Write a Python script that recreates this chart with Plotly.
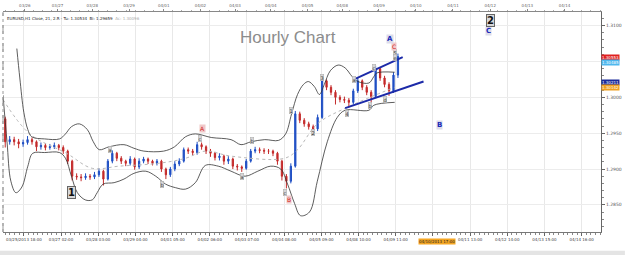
import plotly.graph_objects as go

# ---------------- data ----------------
first_open = 1.2970
closes = [1.2938, 1.2941, 1.2938, 1.2935, 1.2937, 1.2941, 1.2938, 1.2931, 1.2933, 1.2930,
          1.2931, 1.2933, 1.2930, 1.2925, 1.2911, 1.2890, 1.2889, 1.2888, 1.2890, 1.2889,
          1.2892, 1.2897, 1.2886, 1.2911, 1.2922, 1.2915, 1.2911, 1.2908, 1.2914, 1.2903,
          1.2911, 1.2914, 1.2911, 1.2908, 1.2911, 1.2900, 1.2892, 1.2900, 1.2907, 1.2911,
          1.2927, 1.2925, 1.2923, 1.2934, 1.2931, 1.2925, 1.2922, 1.2916, 1.2918, 1.2911,
          1.2914, 1.2904, 1.2903, 1.2901, 1.2911, 1.2925, 1.2927, 1.2926, 1.2925, 1.2925,
          1.2922, 1.2911, 1.2890, 1.2883, 1.2904, 1.2977, 1.2968, 1.2963, 1.2959, 1.2956,
          1.2972, 1.3023, 1.3014, 1.3007, 1.3000, 1.2997, 1.2996, 1.2993, 1.3009, 1.3023,
          1.3014, 1.3007, 1.3001, 1.3040, 1.3027, 1.3018, 1.3009, 1.3031, 1.3057]
highs = [1.2973, 1.2946, 1.2945, 1.2942, 1.2941, 1.2946, 1.2944, 1.2940, 1.2937, 1.2936,
         1.2935, 1.2937, 1.2935, 1.2933, 1.2927, 1.2913, 1.2894, 1.2893, 1.2894, 1.2893,
         1.2896, 1.2901, 1.2899, 1.2914, 1.2926, 1.2924, 1.2918, 1.2913, 1.2918, 1.2916,
         1.2915, 1.2917, 1.2916, 1.2913, 1.2914, 1.2913, 1.2902, 1.2903, 1.2911, 1.2915,
         1.2930, 1.2930, 1.2928, 1.2938, 1.2937, 1.2933, 1.2928, 1.2924, 1.2922, 1.2920,
         1.2918, 1.2916, 1.2907, 1.2905, 1.2914, 1.2928, 1.2931, 1.2930, 1.2929, 1.2928,
         1.2927, 1.2924, 1.2913, 1.2893, 1.2908, 1.2981, 1.2980, 1.2971, 1.2966, 1.2962,
         1.2976, 1.3027, 1.3025, 1.3017, 1.3010, 1.3003, 1.3001, 1.2999, 1.3012, 1.3027,
         1.3025, 1.3017, 1.3010, 1.3044, 1.3042, 1.3030, 1.3021, 1.3035, 1.3061]
lows = [1.2930, 1.2934, 1.2933, 1.2929, 1.2931, 1.2934, 1.2934, 1.2925, 1.2927, 1.2926,
        1.2927, 1.2928, 1.2926, 1.2921, 1.2907, 1.2884, 1.2885, 1.2883, 1.2885, 1.2885,
        1.2886, 1.2889, 1.2877, 1.2884, 1.2908, 1.2911, 1.2907, 1.2904, 1.2905, 1.2899,
        1.2900, 1.2908, 1.2907, 1.2905, 1.2905, 1.2896, 1.2886, 1.2889, 1.2897, 1.2904,
        1.2909, 1.2921, 1.2919, 1.2920, 1.2927, 1.2921, 1.2917, 1.2912, 1.2912, 1.2906,
        1.2907, 1.2900, 1.2898, 1.2896, 1.2899, 1.2909, 1.2922, 1.2922, 1.2921, 1.2921,
        1.2918, 1.2906, 1.2884, 1.2873, 1.2880, 1.2902, 1.2964, 1.2959, 1.2955, 1.2951,
        1.2953, 1.2970, 1.3010, 1.3003, 1.2990, 1.2993, 1.2992, 1.2986, 1.2990, 1.3006,
        1.3010, 1.3003, 1.2993, 1.2999, 1.3023, 1.3014, 1.3002, 1.3006, 1.3027]
opens = [first_open] + closes[:-1]
bar_step = 3
bars = [i * bar_step for i in range(len(closes))]

upper_x = [7.8, 9.8, 12.5, 15.2, 17.8, 26.5, 36.5, 40.5, 44.5, 49.8, 55.2, 59.2, 63.2, 69.8,
           79.8, 86.5, 93.2, 106.5, 113.8, 121.2, 127.8, 138.5, 151.8, 158.5, 165.2, 174.5,
           183.8, 188.5, 192.5, 196.5, 200.5, 203.8, 207.8, 211.2, 214.5, 218.5, 223.8, 228.5,
           233.2, 237.2, 244.5, 247.8, 249.8, 261.8]
upper_y = [1.3068, 1.3027, 1.2979, 1.2955, 1.2945, 1.2942, 1.2942, 1.2949, 1.2959, 1.2963,
           1.2955, 1.2938, 1.2927, 1.2931, 1.2934, 1.2929, 1.2925, 1.2925, 1.2931, 1.2945,
           1.2949, 1.2944, 1.2941, 1.2934, 1.2938, 1.2941, 1.2940, 1.2949, 1.2977, 1.3004,
           1.3018, 1.3022, 1.3015, 1.3004, 1.3018, 1.3037, 1.3045, 1.3041, 1.3029, 1.3022,
           1.3020, 1.3029, 1.3034, 1.3035]
lower_x = [-1.5, 1.2, 3.8, 7.2, 11.2, 15.2, 18.5, 26.5, 36.5, 40.5, 44.5, 48.5, 53.8, 58.5,
           61.8, 65.8, 73.2, 79.8, 86.5, 94.5, 101.2, 107.8, 114.5, 121.2, 127.8, 134.5, 143.2,
           151.8, 161.2, 169.8, 178.5, 185.2, 189.8, 194.5, 198.5, 204.5, 209.8, 216.5, 223.2,
           228.5, 244.5, 247.8, 261.8]
lower_y = [1.3003, 1.2938, 1.2883, 1.2867, 1.2875, 1.2904, 1.2922, 1.2923, 1.2923, 1.2915,
           1.2890, 1.2867, 1.2857, 1.2857, 1.2867, 1.2879, 1.2881, 1.2886, 1.2894, 1.2897,
           1.2890, 1.2879, 1.2874, 1.2872, 1.2881, 1.2905, 1.2904, 1.2897, 1.2890, 1.2897,
           1.2904, 1.2900, 1.2879, 1.2852, 1.2835, 1.2840, 1.2883, 1.2938, 1.2972, 1.2982,
           1.2982, 1.2989, 1.2993]
mid_x = [-1.5, 16.5, 41.2, 58.5, 76.5, 103.2, 121.2, 134.5, 151.8, 187.8, 196.5, 209.8, 229.8, 261.8]
mid_y = [1.2997, 1.2949, 1.2922, 1.2901, 1.2904, 1.2908, 1.2915, 1.2925, 1.2918, 1.2915,
         1.2927, 1.2963, 1.2986, 1.3014]

chan_upper_x = [234.5, 267.2]
chan_upper_y = [1.3025, 1.3056]
chan_lower_x = [228.5, 281.2]
chan_lower_y = [1.2985, 1.3022]

resistance_level = 1.3055
support_level = 1.3021
now_bar = 290

# wave labels: text, bar, price
small_labels = [("a", 70.5, 1.2927), ("b", 105.2, 1.2879), ("c", 131.2, 1.2942),
                ("a", 159.2, 1.2890), ("b", 165.8, 1.2940), ("c", 187.8, 1.2867),
                ("1", 191.8, 1.2982), ("2", 207.2, 1.2951), ("3", 213.2, 1.3027),
                ("4", 229.8, 1.2978), ("a", 234.5, 1.3025), ("b", 245.2, 1.2989),
                ("c", 247.8, 1.3041), ("d", 255.2, 1.2997), ("5", 261.8, 1.3063),
                ("e", 261.8, 1.3055)]
red_labels = [("A", 132.5, 1.2956), ("B", 190.5, 1.2857), ("C", 261.2, 1.3071)]
blue_labels = [("A", 258.5, 1.3082), ("B", 291.8, 1.2961), ("C", 325.2, 1.3092)]
big_labels = [("1", 44.5, 1.2867), ("2", 326.5, 1.3107)]

tick_bars = [12.5 + 25 * k for k in range(16)]
tick_text = ["03/25/2013 18:00", "03/27 02:00", "03/28 03:00", "03/29 04:00", "04/01 05:00",
             "04/02 06:00", "04/03 07:00", "04/04 08:00", "04/05 09:00", "04/08 10:00",
             "04/09 11:00", "", "04/11 13:00", "04/12 14:00", "04/13 15:00", "04/14 16:00"]
top_bars = [13.2, 35.2, 58.5, 83.2, 106.5, 131.2, 154.5, 178.5, 203.2, 226.5, 251.2, 276, 301, 326, 351, 376]
top_text = ["03/26", "03/27", "03/28", "03/29", "04/01", "04/02", "04/03", "04/04", "04/05",
            "04/08", "04/09", "04/10", "04/11", "04/12", "04/13", "04/14"]
y_ticks = [1.2850, 1.2900, 1.2950, 1.3000, 1.3050, 1.3100]
y_text = ["1.2850", "1.2900", "1.2950", "1.3000", "", "1.3100"]

tags = [("1.30553", 1.30553, "#e02020"), ("1.30485", 1.30485, "#4fb8ee"),
        ("1.30211", 1.30211, "#1a2a9a"), ("1.30142", 1.30142, "#f0a020")]

# ---------------- figure ----------------
fig = go.Figure()
BLUE = "#1f4fc4"
RED = "#c42a2a"
fig.add_trace(go.Scatter(x=mid_x, y=mid_y, mode="lines", line=dict(color="#b8b8b8", width=1, dash="dot", shape="spline"), hoverinfo="skip"))
fig.add_trace(go.Scatter(x=upper_x, y=upper_y, mode="lines", line=dict(color="#333333", width=0.8, shape="spline"), hoverinfo="skip"))
fig.add_trace(go.Scatter(x=lower_x, y=lower_y, mode="lines", line=dict(color="#333333", width=0.8, shape="spline"), hoverinfo="skip"))
fig.add_trace(go.Candlestick(x=bars, open=opens, high=highs, low=lows, close=closes,
                             increasing=dict(line=dict(color=BLUE, width=1), fillcolor=BLUE),
                             decreasing=dict(line=dict(color=RED, width=1), fillcolor=RED),
                             whiskerwidth=0))
fig.add_trace(go.Scatter(x=chan_upper_x, y=chan_upper_y, mode="lines", line=dict(color="#1c2aa8", width=2), hoverinfo="skip"))
fig.add_trace(go.Scatter(x=chan_lower_x, y=chan_lower_y, mode="lines", line=dict(color="#1c2aa8", width=2), hoverinfo="skip"))
fig.add_trace(go.Scatter(x=top_bars, y=[1.31215] * len(top_bars), mode="markers", cliponaxis=False,
                         marker=dict(symbol="triangle-down", size=4, color="#e89a20"), hoverinfo="skip"))

fig.add_hline(y=resistance_level, line=dict(color="#e05050", width=1.3, dash="dash"))
fig.add_hline(y=support_level, line=dict(color="#5050c8", width=1))
fig.add_vline(x=now_bar, line=dict(color="#c8c8c8", width=1, dash="dot"))

ann = []
for t, bx, py in small_labels:
    ann.append(dict(x=bx, y=py, text=t, showarrow=False, font=dict(size=5, color="#333"),
                    bgcolor="#d6d6d6", bordercolor="#aaa", borderwidth=0.5, borderpad=0))
for t, bx, py in red_labels:
    ann.append(dict(x=bx, y=py, text=t, showarrow=False, font=dict(size=6, color="#d02020"),
                    bgcolor="#f0c8c8", borderpad=0))
for t, bx, py in blue_labels:
    ann.append(dict(x=bx, y=py, text="<b>" + t + "</b>", showarrow=False, font=dict(size=7, color="#1a2ab8"),
                    bgcolor="#dcdcea", borderpad=0))
for t, bx, py in big_labels:
    ann.append(dict(x=bx, y=py, text="<b>" + t + "</b>", showarrow=False, font=dict(size=10, color="#111"),
                    bgcolor="#d8d8d8", bordercolor="#666", borderwidth=1, borderpad=0))
for t, py, c in tags:
    ann.append(dict(xref="paper", x=1.0, y=py, xanchor="left", text=t, showarrow=False,
                    font=dict(size=4, color="white"), bgcolor=c, borderpad=0))
ann.append(dict(xref="paper", yref="paper", x=0.476, y=0.9375, text="Hourly Chart", showarrow=False,
                font=dict(size=17, color="#8c8c8c", family="Liberation Sans, Arial")))
ann.append(dict(xref="paper", yref="paper", x=0.004, y=0.99, xanchor="left", yanchor="top",
                text="EURUSD,H1 Close, 21, 2.R - Tu: 1.30534  Bi: 1.29659  <span style='color:#aaa'>Ac: 1.30096</span>",
                showarrow=False, font=dict(size=4, color="#222")))
ann.append(dict(x=now_bar, yref="paper", y=0, yanchor="top", yshift=-6, text="04/10/2013 17:00", showarrow=False,
                font=dict(size=4, color="#222"), bgcolor="#f5a623", borderpad=0))

fig.update_layout(
    width=625, height=255, margin=dict(l=3, r=19, t=8, b=23),
    paper_bgcolor="white", plot_bgcolor="white", showlegend=False,
    font=dict(family="DejaVu Sans", size=5, color="#444"),
    annotations=ann, boxgap=0.6, boxgroupgap=0.3,
    xaxis=dict(range=[-1.5, 400.5], tickvals=tick_bars, ticktext=tick_text, rangeslider=dict(visible=False),
               showgrid=True, gridcolor="#e8e8e8", gridwidth=1, ticks="outside", ticklen=3, tickcolor="#666",
               showline=True, linecolor="#777", tickfont=dict(size=4, color="#444"), tickangle=0,
               minor=dict(ticks="outside", ticklen=2, tickcolor="#888", dtick=3.125, tick0=12.5, showgrid=False),
               zeroline=False),
    xaxis2=dict(range=[-1.5, 400.5], overlaying="x", side="top", tickvals=top_bars, ticktext=top_text,
                showgrid=False, ticks="outside", ticklen=2, tickcolor="#888", showline=True, linecolor="#888",
                tickfont=dict(size=4, color="#666"), anchor="y", zeroline=False, tickangle=0,
                minor=dict(ticks="outside", ticklen=1, tickcolor="#aaa", dtick=6.25, tick0=0)),
    yaxis=dict(range=[1.28122, 1.31190], side="right", tickvals=y_ticks, ticktext=y_text,
               showgrid=True, gridcolor="#ececec", ticks="outside", ticklen=3, tickcolor="#666",
               showline=True, linecolor="#666", mirror=False, tickfont=dict(size=4.5, color="#555"),
               minor=dict(ticks="outside", ticklen=2, tickcolor="#888", dtick=0.001, showgrid=False),
               zeroline=False),
    shapes=[dict(type="line", xref="paper", yref="paper", x0=0, x1=0, y0=0, y1=1, line=dict(color="#999", width=1)),
            dict(type="rect", xref="paper", yref="paper", x0=-0.01, x1=1.04, y0=-0.085, y1=-0.13,
                 fillcolor="#e4e4e4", line=dict(width=0), layer="below")],
)
fig.add_trace(go.Scatter(x=[], y=[], xaxis="x2"))
fig.write_html("out.html")
